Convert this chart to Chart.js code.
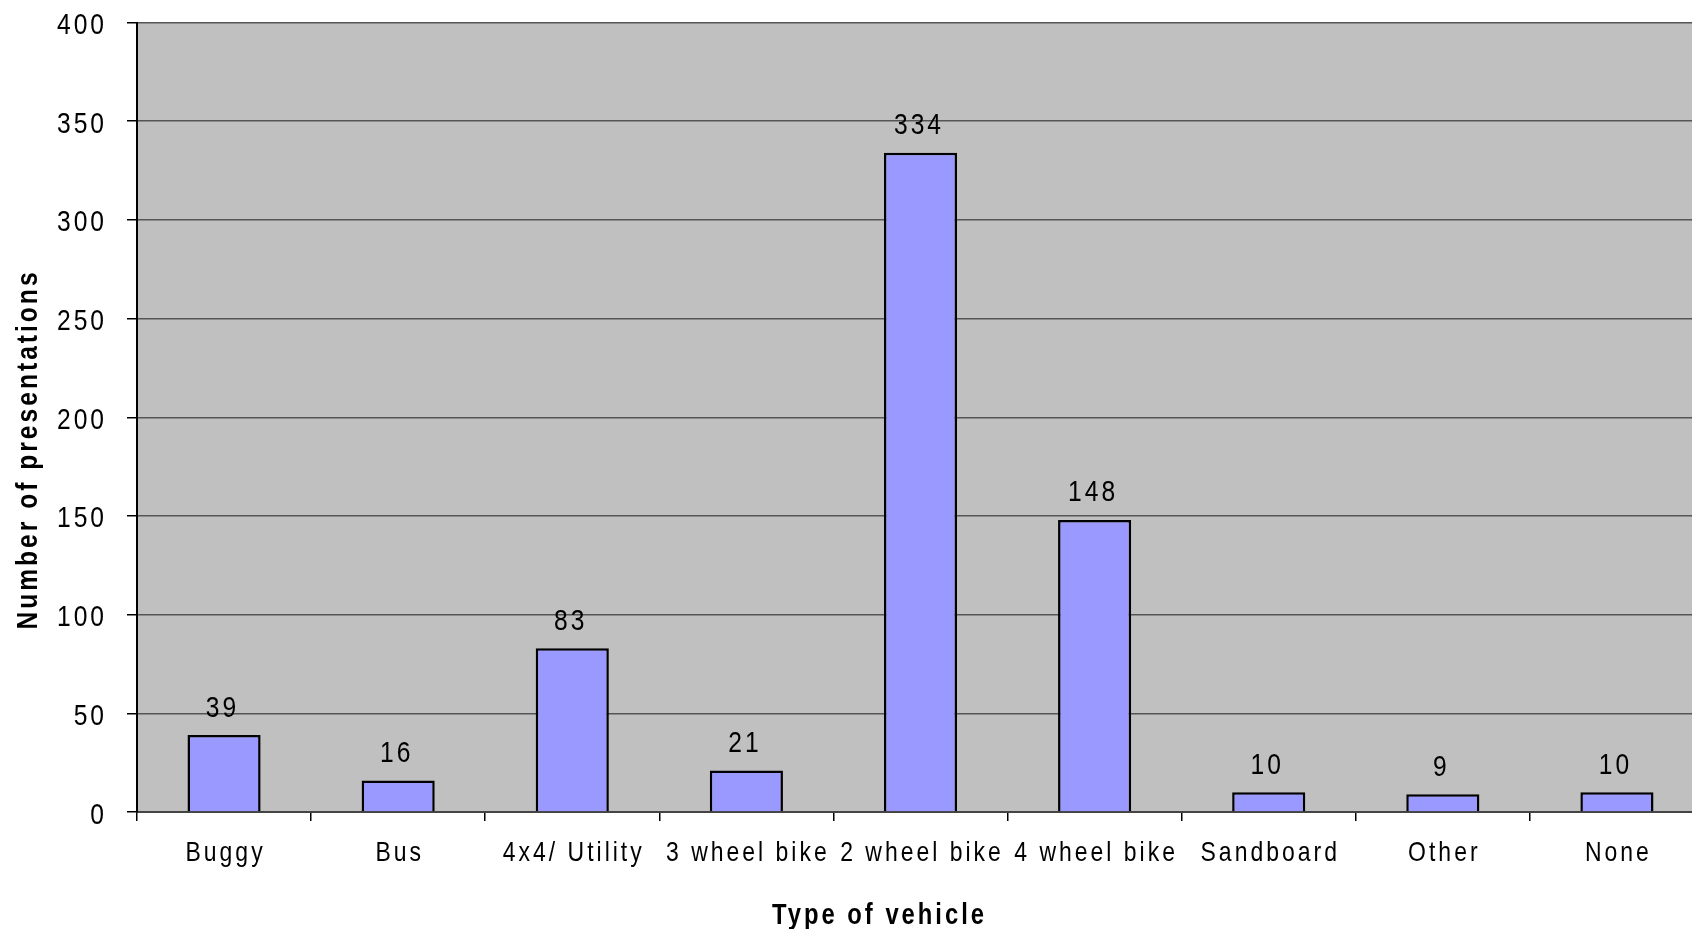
<!DOCTYPE html>
<html>
<head>
<meta charset="utf-8">
<script src="https://cdn.jsdelivr.net/npm/chart.js@4.4.1/dist/chart.umd.min.js"></script>
<style>
  html, body { margin: 0; padding: 0; background: #fff; overflow: hidden; }
  #wrap { width: 1704px; height: 929px; }
</style>
</head>
<body>
<div id="wrap"><canvas id="myChart"></canvas></div>
<script>
const categories = ["Buggy", "Bus", "4x4/ Utility", "3 wheel bike", "2 wheel bike", "4 wheel bike", "Sandboard", "Other", "None"];
const presentations = [39, 16, 83, 21, 334, 148, 10, 9, 10];
const yTicks = [0, 50, 100, 150, 200, 250, 300, 350, 400];

const FONT = "'Liberation Sans', Arial, sans-serif";
const SX = 0.82;      // narrow lettering of the original
const GAP = 3;        // letter spacing in px

// draws condensed, letter-spaced text; align = left | center | right
function spacedText(ctx, text, x, y, align, font, angle) {
    ctx.save();
    ctx.font = font;
    ctx.letterSpacing = (GAP / SX) + "px";
    ctx.textAlign = "left";
    ctx.textBaseline = "alphabetic";
    const w = (ctx.measureText(text).width - GAP / SX) * SX;
    ctx.translate(x, y);
    if (angle) ctx.rotate(angle);
    let left = 0;
    if (align === "center") left = -w / 2;
    if (align === "right") left = -w;
    ctx.translate(left, 0);
    ctx.scale(SX, 1);
    ctx.fillStyle = "#000";
    ctx.fillText(text, 0, 0);
    ctx.restore();
}

const plotBg = {
    id: "plotBg",
    beforeDraw(chart) {
        const { ctx, chartArea } = chart;
        ctx.save();
        ctx.fillStyle = "#C0C0C0";
        ctx.fillRect(chartArea.left, chartArea.top, chartArea.right - chartArea.left, chartArea.bottom - chartArea.top);
        ctx.restore();
    }
};

// tick labels, bar values and axis titles
const texts = {
    id: "texts",
    afterDraw(chart) {
        const ctx = chart.ctx;
        const xs = chart.scales.x;
        const ys = chart.scales.y;

        xs.ticks.forEach((t, i) => {
            spacedText(ctx, String(t.label), xs.getPixelForTick(i), 861, "center", "28px " + FONT);
        });
        ys.ticks.forEach((t, i) => {
            spacedText(ctx, String(t.value), 104, ys.getPixelForTick(i) + 11.5, "right", "30px " + FONT);
        });

        chart.getDatasetMeta(0).data.forEach((bar, i) => {
            spacedText(ctx, String(presentations[i]), bar.x - 3, bar.y - 18.5, "center", "30px " + FONT);
        });

        spacedText(ctx, "Type of vehicle", 878, 924, "center", "bold 29px " + FONT);
        spacedText(ctx, "Number of presentations", 37, 451, "center", "bold 30px " + FONT, -Math.PI / 2);
    }
};

const ctx = document.getElementById("myChart").getContext("2d");

const chart = new Chart(ctx, {
    type: "bar",
    data: {
        labels: categories,
        datasets: [{
            data: presentations,
            backgroundColor: "#9999FF",
            borderColor: "#000",
            borderWidth: 2.5,
            barPercentage: 0.42,
            categoryPercentage: 1.0
        }]
    },
    options: {
        responsive: true,
        maintainAspectRatio: false,
        animation: false,
        layout: { padding: { top: 22.5, right: 0, left: 0, bottom: 0 } },
        plugins: {
            legend: { display: false },
            tooltip: { enabled: false }
        },
        scales: {
            x: {
                offset: true,
                grid: {
                    offset: true,
                    drawOnChartArea: false,
                    drawTicks: true,
                    tickLength: 9,
                    tickColor: "#000",
                    lineWidth: 1.5
                },
                border: { color: "#444", width: 2 },
                ticks: {
                    color: "rgba(0,0,0,0)",
                    font: { family: FONT, size: 8 },
                    padding: 2,
                    maxRotation: 0,
                    autoSkip: false
                },
                afterFit(scale) { scale.height = 117; }
            },
            y: {
                min: 0,
                max: 400,
                afterBuildTicks(scale) { scale.ticks = yTicks.map(v => ({ value: v })); },
                grid: {
                    color: "#555",
                    lineWidth: 1.5,
                    drawTicks: true,
                    tickLength: 10,
                    tickColor: "#000"
                },
                border: { color: "#000", width: 2 },
                ticks: {
                    color: "rgba(0,0,0,0)",
                    font: { family: FONT, size: 8 },
                    padding: 2
                },
                afterFit(scale) { scale.width = 137; }
            }
        }
    },
    plugins: [plotBg, texts]
});
</script>
</body>
</html>
